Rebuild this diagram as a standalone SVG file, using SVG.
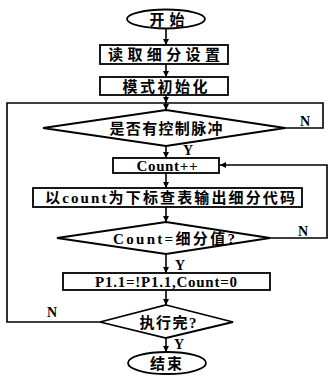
<svg xmlns="http://www.w3.org/2000/svg" width="329" height="378" viewBox="0 0 329 378">
<defs>
<marker id="ah" viewBox="0 0 8 8" refX="8" refY="4" markerWidth="6" markerHeight="6" markerUnits="userSpaceOnUse" orient="auto">
<path d="M0,0 L8,4 L0,8 Z" fill="#000"/>
</marker>
</defs>
<style>
.s{fill:#fff;stroke:#000;stroke-width:1.8}
.c{fill:none;stroke:#000;stroke-width:1.6}
.a{fill:none;stroke:#000;stroke-width:1.6;marker-end:url(#ah)}
.t{font-family:"Liberation Serif","Noto Sans CJK SC",serif;font-weight:bold;font-size:15px;text-anchor:middle;fill:#000}
.l{font-family:"Liberation Serif",serif;font-weight:bold;font-size:14px;text-anchor:middle;fill:#000}
</style>
<rect width="329" height="378" fill="#fff"/>
<g id="connectors">
<line class="a" x1="166" y1="28" x2="166" y2="45"/>
<line class="a" x1="166" y1="64" x2="166" y2="77"/>
<line class="a" x1="166" y1="95" x2="166" y2="103"/>
<polyline class="c" points="100,322 7,322 7,103 323,103 323,128 285,128"/>
<line class="a" x1="166" y1="103" x2="166" y2="110"/>
<line class="a" x1="166" y1="146" x2="166" y2="158"/>
<line class="a" x1="166" y1="173" x2="166" y2="188"/>
<line class="a" x1="166" y1="207" x2="166" y2="222"/>
<line class="a" x1="166" y1="254" x2="166" y2="273"/>
<line class="a" x1="166" y1="290" x2="166" y2="305"/>
<line class="a" x1="166" y1="338" x2="166" y2="352"/>
<polyline class="a" points="270,238 327,238 327,165 220,165"/>
<text class="l" x="305" y="126">N</text>
<text class="l" x="188" y="155">Y</text>
<text class="l" x="303" y="236">N</text>
<text class="l" x="180" y="270">Y</text>
<text class="l" x="52" y="317">N</text>
<text class="l" x="179" y="349">Y</text>
</g>
<g id="start">
<ellipse class="s" cx="166" cy="19" rx="39" ry="9.5"/>
<text class="t" x="167" y="24.5" textLength="35" lengthAdjust="spacing">开始</text>
</g>
<g id="read">
<rect class="s" x="100" y="45" width="128" height="19"/>
<text class="t" x="164" y="60" textLength="112" lengthAdjust="spacing">读取细分设置</text>
</g>
<g id="init">
<rect class="s" x="100" y="77" width="128" height="18"/>
<text class="t" x="165" y="91.5" textLength="85" lengthAdjust="spacing">模式初始化</text>
</g>
<g id="pulse">
<polygon class="s" points="166,110 285,128 166,146 43,128"/>
<text class="t" x="166" y="133.5" textLength="113" lengthAdjust="spacing">是否有控制脉冲</text>
</g>
<g id="count">
<rect class="s" x="113" y="158" width="106" height="15"/>
<text class="t" x="167" y="170.5" textLength="61" lengthAdjust="spacing">Count++</text>
</g>
<g id="lookup">
<rect class="s" x="33" y="188" width="269" height="19"/>
<text class="t" x="170" y="203" textLength="250" lengthAdjust="spacing">以count为下标查表输出细分代码</text>
</g>
<g id="compare">
<polygon class="s" points="166,222 270,238 166,254 57,238"/>
<text class="t" x="174" y="243.5" textLength="122" lengthAdjust="spacing">Count=细分值?</text>
</g>
<g id="toggle">
<rect class="s" x="63" y="273" width="207" height="17"/>
<text class="t" x="166" y="286.5" textLength="142" lengthAdjust="spacing">P1.1=!P1.1,Count=0</text>
</g>
<g id="done">
<polygon class="s" points="166,305 233,322 166,338 100,322"/>
<text class="t" x="168" y="327.5" textLength="57" lengthAdjust="spacing">执行完?</text>
</g>
<g id="end">
<ellipse class="s" cx="167" cy="363" rx="39" ry="11"/>
<text class="t" x="166" y="368.5" textLength="32" lengthAdjust="spacing">结束</text>
</g>
</svg>
